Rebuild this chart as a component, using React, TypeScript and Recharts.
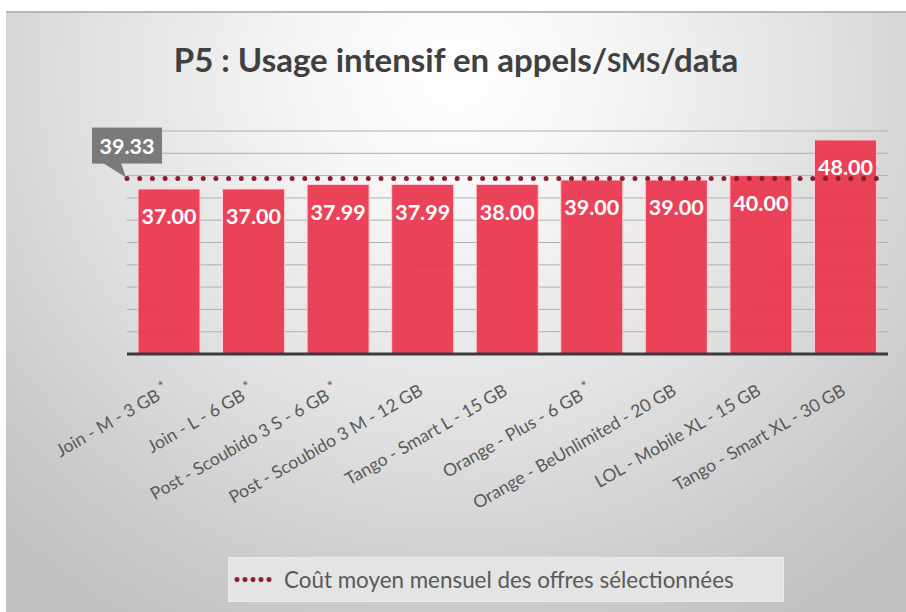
import React from 'react';
import { BarChart, Bar, XAxis, YAxis, CartesianGrid, ReferenceLine, LabelList } from 'recharts';

const categories = [
  'Join - M - 3 GB *',
  'Join - L - 6 GB *',
  'Post - Scoubido 3 S - 6 GB *',
  'Post - Scoubido 3 M - 12 GB',
  'Tango - Smart L - 15 GB',
  'Orange - Plus - 6 GB *',
  'Orange - BeUnlimited - 20 GB',
  'LOL - Mobile XL - 15 GB',
  'Tango - Smart XL - 30 GB',
];
const prices = [37.0, 37.0, 37.99, 37.99, 38.0, 39.0, 39.0, 40.0, 48.0];
const averageCost = 39.33;
const yTicks = [0, 5, 10, 15, 20, 25, 30, 35, 40, 45, 50];
const titleStart = 'P5 : Usage intensif en appels/';
const titleSmall = 'SMS';
const titleEnd = '/data';
const legendLabel = 'Coût moyen mensuel des offres sélectionnées';

const data = categories.map((name, i) => ({ name, price: prices[i] }));

const FONT = 'Lato, "Open Sans", sans-serif';
const LINE_COLOR = '#8a1c30';

const CategoryTick = (props: any) => {
  const { x, y, payload } = props;
  const label: string = String(payload.value);
  const star = label.endsWith(' *');
  const main = star ? label.slice(0, -2) : label;
  return (
    <g transform={`translate(${x + 1},${y + 32})`}>
      <text transform="rotate(-30)" textAnchor="end" fill="#595959" fontSize={17.5} fontFamily={FONT}>
        {main}
        {star ? (
          <tspan dx={4} dy={-6} fontSize={14}>
            *
          </tspan>
        ) : null}
      </text>
    </g>
  );
};

const BarValueLabel = (props: any) => {
  const { x, y, width, value } = props;
  return (
    <text
      x={x + width / 2}
      y={y + 27}
      textAnchor="middle"
      dominantBaseline="central"
      fill="#ffffff"
      fontWeight={700}
      fontSize={21.5}
      fontFamily={FONT}
    >
      {Number(value).toFixed(2)}
    </text>
  );
};

const Callout = (props: any) => {
  const vb = props.viewBox || {};
  const x = vb.x;
  const y = vb.y;
  if (x == null || y == null) return null;
  return (
    <g>
      <rect x={x - 35} y={y - 51} width={70} height={36} fill="#7a7a7a" />
      <polygon points={`${x - 24},${y - 15.5} ${x - 6},${y - 15.5} ${x - 1},${y - 1}`} fill="#7a7a7a" />
      <text
        x={x}
        y={y - 33}
        textAnchor="middle"
        dominantBaseline="central"
        fill="#ffffff"
        fontWeight={700}
        fontSize={21.5}
        fontFamily={FONT}
      >
        {averageCost.toFixed(2)}
      </text>
    </g>
  );
};

export default function App() {
  return (
    <div style={{ position: 'absolute', left: 0, top: 0, width: 906, height: 612, overflow: 'hidden', background: '#ffffff', fontFamily: FONT }}>
      <div
        style={{
          position: 'absolute',
          left: 6,
          top: 11,
          width: 900,
          height: 601,
          borderTop: '2px solid #b8b8b8',
          boxSizing: 'border-box',
          background:
            'radial-gradient(ellipse 72% 105% at 50% 10%, #ffffff 0%, #f6f6f6 22%, #e2e2e2 55%, #cbcbcb 85%, #c2c2c2 100%)',
        }}
      />
      <div
        style={{
          position: 'absolute',
          left: 6,
          width: 900,
          top: 37,
          textAlign: 'center',
          fontSize: 33,
          fontWeight: 700,
          color: '#404040',
          lineHeight: '44px',
          whiteSpace: 'nowrap',
        }}
      >
        {titleStart}
        <span style={{ fontSize: 26 }}>{titleSmall}</span>
        {titleEnd}
      </div>
      <div style={{ position: 'absolute', left: 0, top: 0 }}>
        <BarChart width={906} height={612} data={data} margin={{ top: 131, right: 18, bottom: 138, left: 127 }}>
          <CartesianGrid vertical={false} stroke="#b0b0b0" strokeWidth={1} />
          <YAxis
            domain={[0, 50]}
            ticks={yTicks}
            width={0}
            axisLine={false}
            tickLine={false}
            tickFormatter={() => ''}
          />
          <XAxis
            dataKey="name"
            height={120}
            interval={0}
            tickLine={false}
            axisLine={{ stroke: '#3a3a3a', strokeWidth: 3 }}
            tick={<CategoryTick />}
          />
          <Bar
            dataKey="price"
            barSize={62}
            fill="#ea3850"
            fillOpacity={0.94}
            stroke="#ffd0d6"
            strokeWidth={1}
            isAnimationActive={false}
          >
            <LabelList dataKey="price" content={<BarValueLabel />} />
          </Bar>
          <ReferenceLine
            y={averageCost}
            stroke={LINE_COLOR}
            strokeWidth={5}
            strokeDasharray="0 12.7"
            strokeLinecap="round"
            label={<Callout />}
          />
        </BarChart>
      </div>
      <div
        style={{
          position: 'absolute',
          left: 228,
          top: 557,
          width: 556,
          height: 45,
          boxSizing: 'border-box',
          background: '#e4e4e4',
          border: '1px solid #ececec',
          display: 'flex',
          alignItems: 'center',
        }}
      >
        <svg width={55} height={43} style={{ flex: '0 0 auto' }}>
          <line x1={8} y1={21.5} x2={48} y2={21.5} stroke={LINE_COLOR} strokeWidth={5} strokeDasharray="0 8" strokeLinecap="round" />
        </svg>
        <span style={{ fontSize: 22.4, color: '#595959', whiteSpace: 'nowrap' }}>{legendLabel}</span>
      </div>
    </div>
  );
}
